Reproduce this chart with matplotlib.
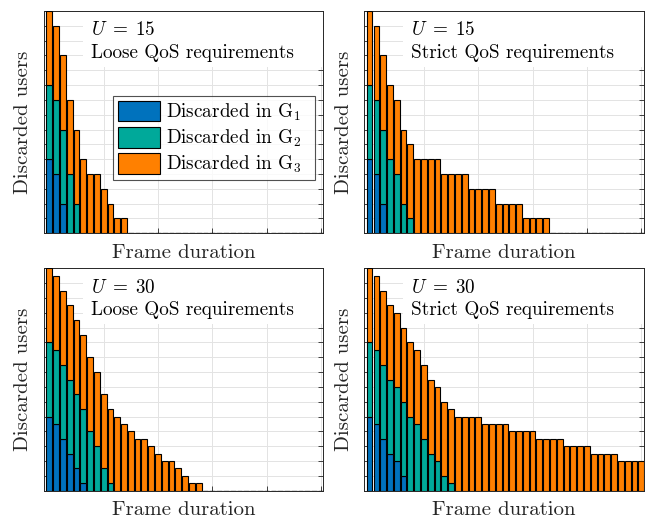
import numpy as np
import matplotlib
matplotlib.use("Agg")
import matplotlib.pyplot as plt
from matplotlib.patches import Rectangle

plt.rcParams["font.family"] = "serif"
plt.rcParams["font.serif"] = ["cmr10"]
plt.rcParams["mathtext.fontset"] = "cm"
plt.rcParams["axes.unicode_minus"] = False
plt.rcParams["axes.formatter.use_mathtext"] = True

# -----------------------------
# Data (discarded users per frame-duration index)
# -----------------------------
N_BARS = 41

u15_loose_g1 = [5, 4, 2]
u15_loose_g2 = [5, 5, 5, 4, 2]
u15_loose_g3 = [5, 5, 5, 5, 5, 5, 4, 4, 3, 2, 1, 1]

u15_strict_g1 = [5, 4, 2]
u15_strict_g2 = [5, 5, 5, 5, 4, 2, 1]
u15_strict_g3 = [5, 5, 5, 5, 5, 5, 5, 5, 5, 5, 5, 4, 4, 4, 4,
                 3, 3, 3, 3, 2, 2, 2, 2, 1, 1, 1, 1]

u30_loose_g1 = [10, 9, 7, 5, 3, 1]
u30_loose_g2 = [10, 10, 10, 10, 10, 10, 8, 6, 3, 1]
u30_loose_g3 = [10, 10, 10, 10, 10, 10, 10, 10, 10, 10,
                10, 9, 8, 7, 7, 6, 5, 4, 4, 3, 2, 1, 1]

u30_strict_g1 = [10, 9, 7, 5, 4, 2]
u30_strict_g2 = [10, 10, 10, 10, 10, 10, 10, 9, 7, 5, 4, 2, 1]
u30_strict_g3 = [10, 10, 10, 10, 10, 10, 10, 10, 10, 10, 10, 10, 10,
                 10, 10, 10, 10, 9, 9, 9, 9, 8, 8, 8, 8, 7, 7, 7, 7,
                 6, 6, 6, 6, 5, 5, 5, 5, 4, 4, 4, 4]

panels = [
    ("$U\\;=\\;15$", "Loose QoS requirements", 15, 1,
     u15_loose_g1, u15_loose_g2, u15_loose_g3),
    ("$U\\;=\\;15$", "Strict QoS requirements", 15, 1,
     u15_strict_g1, u15_strict_g2, u15_strict_g3),
    ("$U\\;=\\;30$", "Loose QoS requirements", 30, 2,
     u30_loose_g1, u30_loose_g2, u30_loose_g3),
    ("$U\\;=\\;30$", "Strict QoS requirements", 30, 2,
     u30_strict_g1, u30_strict_g2, u30_strict_g3),
]

legend_labels = ["Discarded in G$_1$", "Discarded in G$_2$", "Discarded in G$_3$"]
colors = ["#0072BD", "#00A99A", "#FF8000"]


def pad(vals):
    out = np.zeros(N_BARS)
    out[:len(vals)] = vals
    return out


x = np.arange(1, N_BARS + 1)

fig = plt.figure(figsize=(6.55, 5.21), dpi=100)

ax_w, ax_h = 0.4264, 0.4267
lefts = [0.0672, 0.5562]
bottoms = [0.5522, 0.0582]

FS = 13.8
FS_LAB = 15

for k, (utxt, qtxt, ymax, ystep, g1, g2, g3) in enumerate(panels):
    ax = fig.add_axes([lefts[k % 2], bottoms[k // 2], ax_w, ax_h])
    g1, g2, g3 = pad(g1), pad(g2), pad(g3)

    ax.bar(x, g1, width=0.85, color=colors[0], edgecolor="black",
           linewidth=0.8, zorder=3, label=legend_labels[0])
    ax.bar(x, g2, width=0.85, bottom=g1, color=colors[1],
           edgecolor="black", linewidth=0.8, zorder=3,
           label=legend_labels[1])
    ax.bar(x, g3, width=0.85, bottom=g1 + g2, color=colors[2],
           edgecolor="black", linewidth=0.8, zorder=3,
           label=legend_labels[2])

    ax.set_xlim(0.22, 41.35)
    ax.set_ylim(0, ymax)
    ax.set_xticks([1, 9, 17, 25, 33, 41])
    ax.set_yticks(np.arange(0, ymax + ystep, ystep))
    ax.set_xticklabels([])
    ax.set_yticklabels([])
    ax.tick_params(direction="in", length=3.5, width=0.6, top=True,
                   right=True, colors="#262626")
    ax.grid(True, color="#E3E3E3", linewidth=0.7, zorder=0)
    ax.set_axisbelow(True)
    for sp in ax.spines.values():
        sp.set_color("#262626")
        sp.set_linewidth(0.7)

    # white backdrop behind the annotation
    ax.add_patch(Rectangle((0.14, 0.75), 0.86, 0.25, transform=ax.transAxes,
                           facecolor="white", edgecolor="none", zorder=1))
    ax.text(0.167, 0.89, utxt, transform=ax.transAxes, fontsize=FS,
            va="baseline", ha="left", zorder=4)
    ax.text(0.167, 0.79, qtxt, transform=ax.transAxes, fontsize=FS,
            va="baseline", ha="left", zorder=4)

    ax.set_xlabel("Frame duration", fontsize=FS_LAB, labelpad=4, color="#262626")
    ax.set_ylabel("Discarded users", fontsize=FS_LAB, labelpad=5, color="#262626")

    if k == 0:
        leg = ax.legend(loc="lower left", bbox_to_anchor=(0.246, 0.24, 0.724, 0.367),
                        mode="expand", fontsize=FS, frameon=True, fancybox=False,
                        handlelength=2.2, handleheight=1.25, borderaxespad=0,
                        handletextpad=0.35, labelspacing=0.22, borderpad=0.25)
        leg.get_frame().set_edgecolor("#262626")
        leg.get_frame().set_linewidth(0.8)
        leg.set_zorder(5)

fig.savefig("out.png", dpi=100)
